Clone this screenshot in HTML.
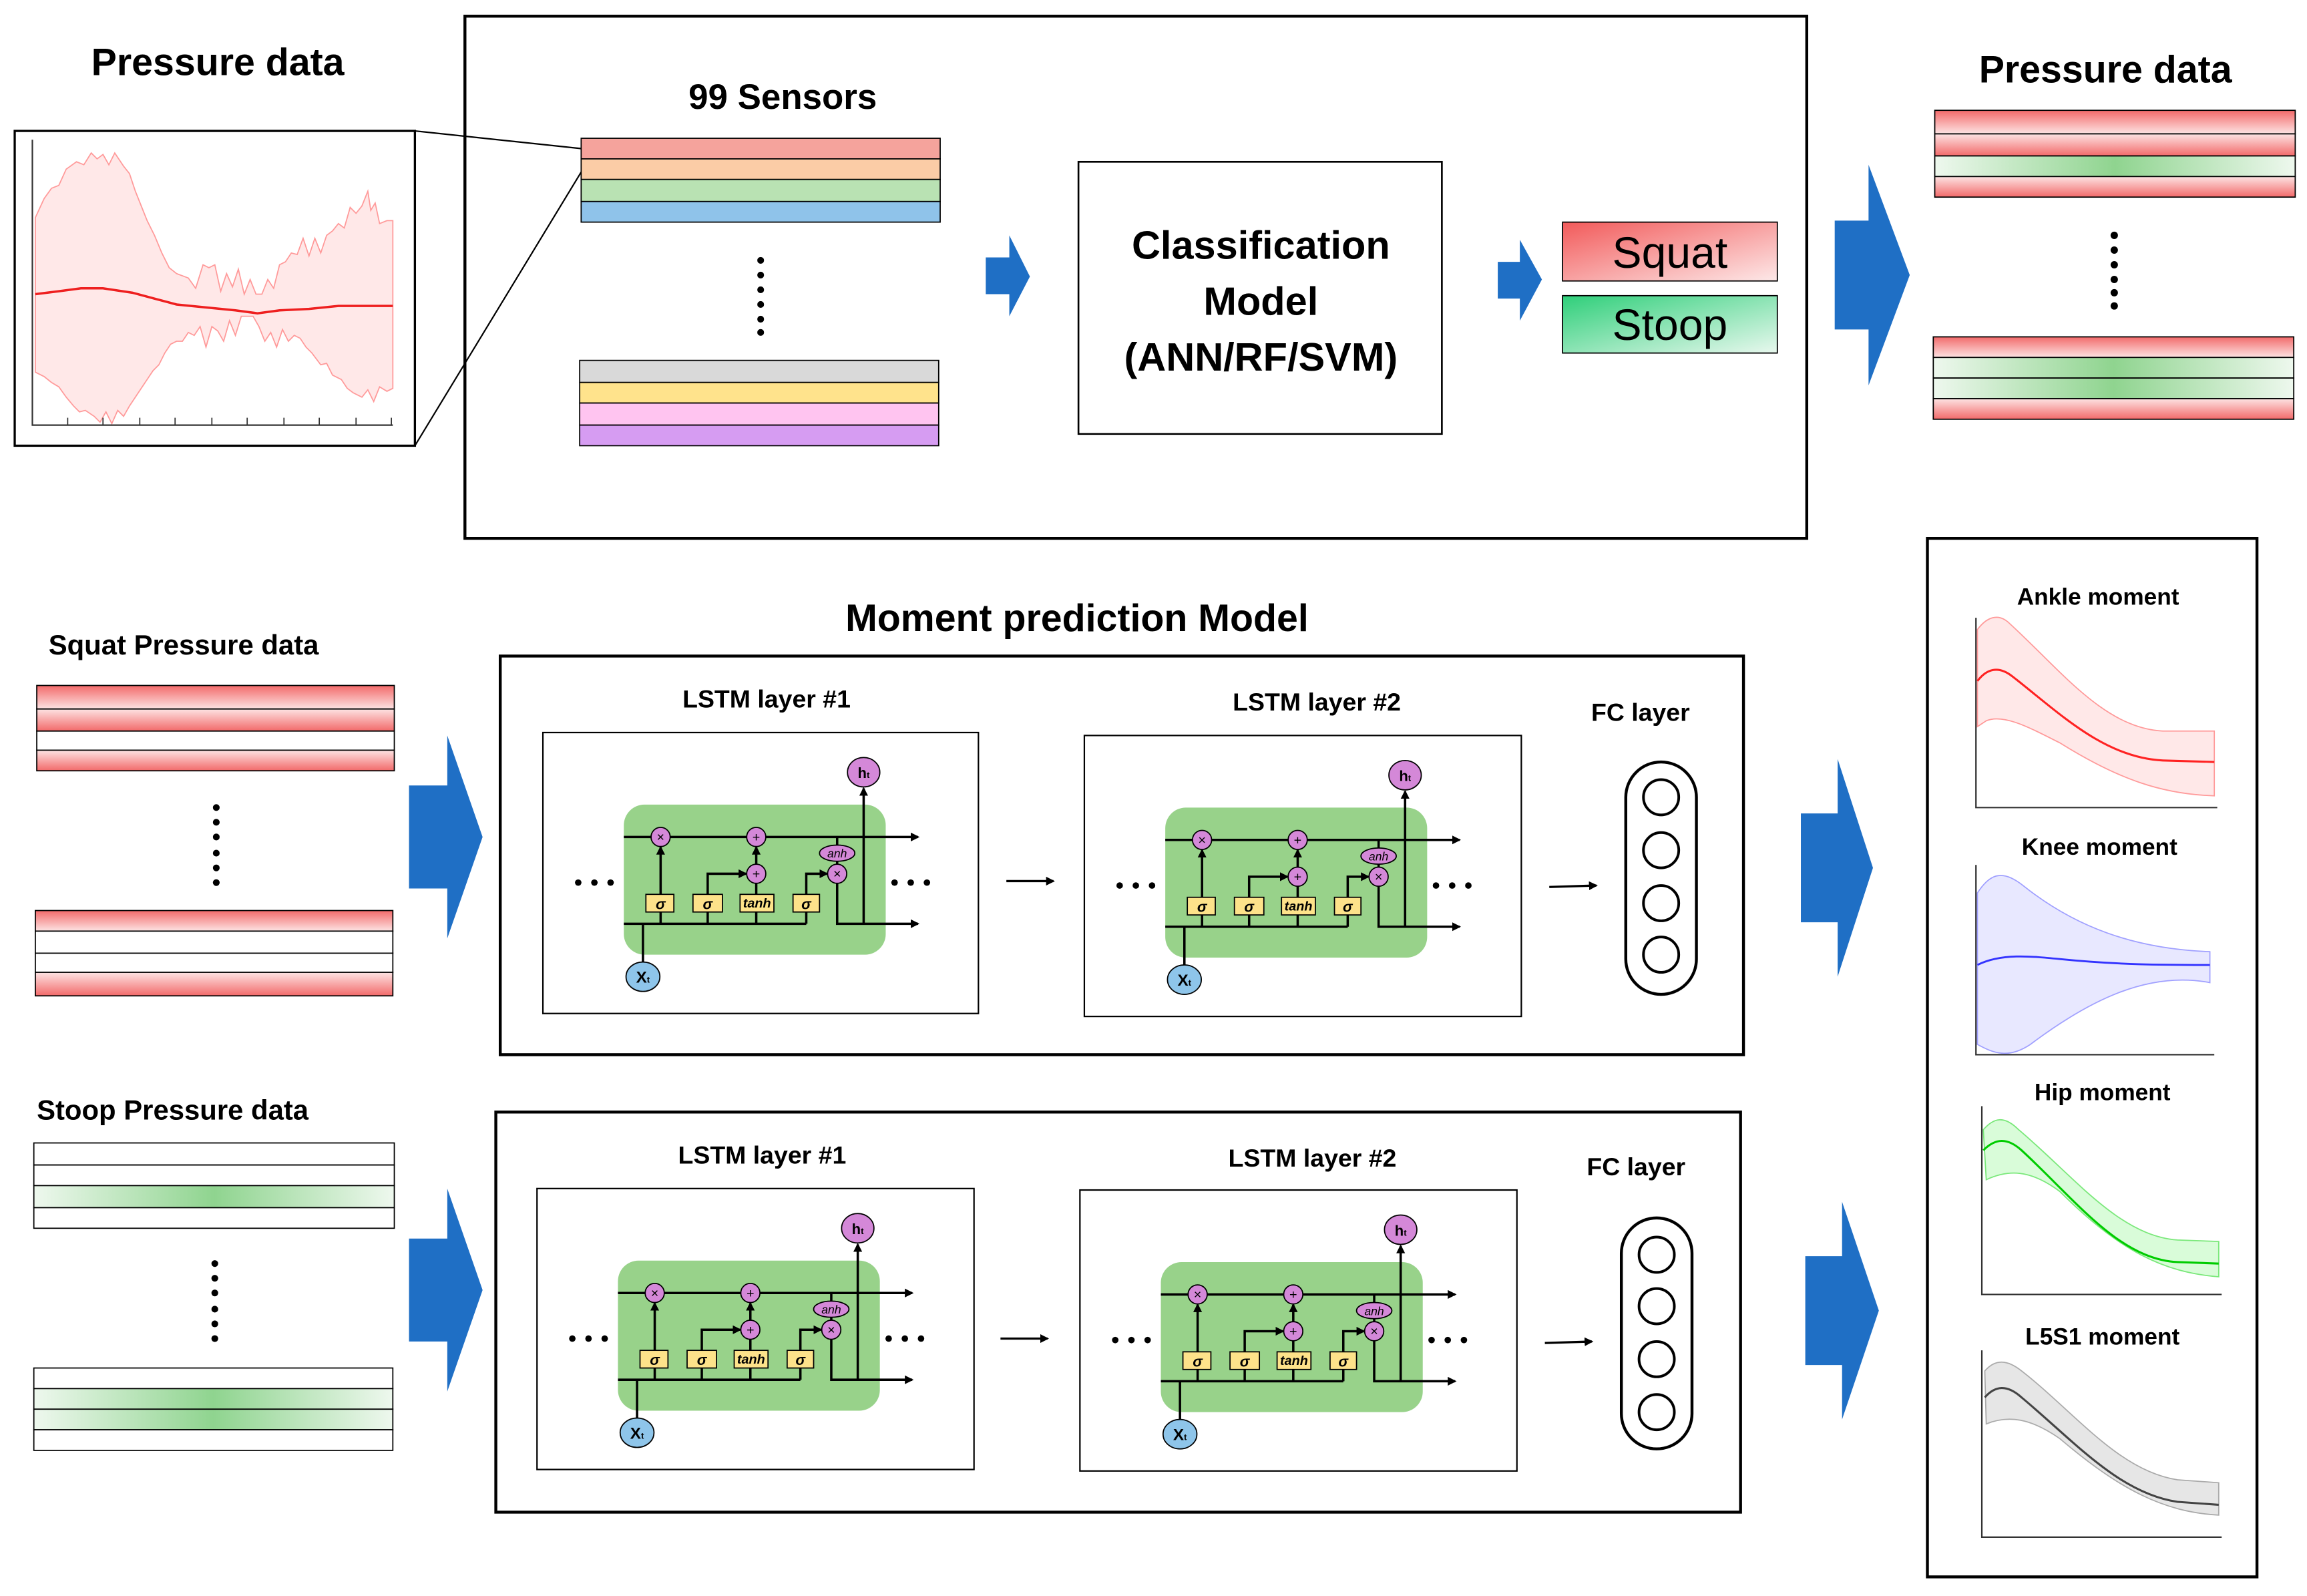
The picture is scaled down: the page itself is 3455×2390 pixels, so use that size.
<!DOCTYPE html>
<html><head><meta charset="utf-8"><style>
html,body{margin:0;padding:0;background:#fff;}
svg{display:block;}
text{font-family:"Liberation Sans",sans-serif;}
.b{font-weight:bold;}
</style></head><body>
<svg width="3455" height="2390" viewBox="0 0 1568 1085" preserveAspectRatio="none" xmlns="http://www.w3.org/2000/svg">
<defs>
<linearGradient id="rv" x1="0" y1="0" x2="0" y2="1"><stop offset="0" stop-color="#f26a6a"/><stop offset="1" stop-color="#fde3e3"/></linearGradient>
<linearGradient id="rv2" x1="0" y1="0" x2="0" y2="1"><stop offset="0" stop-color="#fde3e3"/><stop offset="1" stop-color="#f26a6a"/></linearGradient>
<linearGradient id="gh" x1="0" y1="0" x2="1" y2="0"><stop offset="0" stop-color="#eef8ee"/><stop offset="0.5" stop-color="#8fd48f"/><stop offset="1" stop-color="#eef8ee"/></linearGradient>
<linearGradient id="sq" x1="0" y1="0" x2="1" y2="1"><stop offset="0" stop-color="#f25a5a"/><stop offset="1" stop-color="#fde8e8"/></linearGradient>
<linearGradient id="st" x1="0" y1="0" x2="1" y2="1"><stop offset="0" stop-color="#2fcf7a"/><stop offset="1" stop-color="#e8f8ee"/></linearGradient>
<marker id="ah" markerWidth="6" markerHeight="6" refX="5" refY="3" orient="auto" markerUnits="userSpaceOnUse"><path d="M0,0 L6,3 L0,6 Z" fill="#000"/></marker>
</defs>

<!-- TOP SECTION -->
<text x="148" y="51" class="b" font-size="26" text-anchor="middle">Pressure data</text>
<rect x="10" y="89" width="272" height="214" fill="#fff" stroke="#000" stroke-width="1.5"/>
<polygon points="24,148 30,135 35,128 40,126 45,115 52,110 57,112 62,104 66,108 70,105 74,112 78,104 84,113 88,118 92,130 96,140 100,150 105,160 110,172 115,182 120,186 128,189 133,196 138,180 142,182 146,180 150,198 154,186 158,195 162,183 166,200 170,190 174,200 178,200 182,190 186,196 190,180 194,178 198,172 202,173 206,162 210,174 214,162 218,172 222,160 226,157 230,152 234,155 238,141 242,145 246,140 250,130 252,143 255,138 258,152 263,150 267,150 267,264 263,266 258,263 254,273 250,265 246,270 240,267 236,264 232,258 226,255 222,247 218,248 212,240 208,236 204,230 200,228 196,232 192,224 188,236 184,226 180,232 176,222 172,215 168,215 164,215 160,228 156,218 152,232 148,225 144,222 140,236 136,222 132,228 128,226 124,232 120,232 116,234 112,240 108,248 104,252 100,258 96,264 92,270 88,276 84,283 80,279 76,288 72,280 68,287 64,283 58,279 54,280 50,276 45,270 40,263 35,260 30,256 24,253" fill="#ffe8e8" stroke="#ff9a9a" stroke-width="0.8"/>
<polyline points="24,200 40,198 55,196 70,196 90,199 105,203 120,207 140,209 160,211 175,213 190,211 210,210 230,208 250,208 267,208" fill="none" stroke="#ee2020" stroke-width="1.6"/>
<polyline points="22,95 22,289 267,289" fill="none" stroke="#333" stroke-width="1"/>
<g stroke="#333" stroke-width="0.8"><line x1="46" y1="284" x2="46" y2="289"/><line x1="70" y1="284" x2="70" y2="289"/><line x1="95" y1="284" x2="95" y2="289"/><line x1="119" y1="284" x2="119" y2="289"/><line x1="144" y1="284" x2="144" y2="289"/><line x1="168" y1="284" x2="168" y2="289"/><line x1="193" y1="284" x2="193" y2="289"/><line x1="217" y1="284" x2="217" y2="289"/><line x1="242" y1="284" x2="242" y2="289"/><line x1="266" y1="284" x2="266" y2="289"/></g>
<line x1="282" y1="89" x2="395" y2="101" stroke="#000" stroke-width="1"/>
<line x1="282" y1="303" x2="395" y2="117" stroke="#000" stroke-width="1"/>

<rect x="316" y="11" width="912" height="355" fill="none" stroke="#000" stroke-width="2"/>
<text x="532" y="74" class="b" font-size="24" text-anchor="middle">99 Sensors</text>
<g stroke="#000" stroke-width="0.8">
<rect x="395" y="94" width="244" height="14" fill="#f5a39c"/>
<rect x="395" y="108" width="244" height="14" fill="#fbcca6"/>
<rect x="395" y="122" width="244" height="15" fill="#b9e2b3"/>
<rect x="395" y="137" width="244" height="14" fill="#8fc3ea"/>
<rect x="394" y="245" width="244" height="15" fill="#d9d9d9"/>
<rect x="394" y="260" width="244" height="14" fill="#ffe38c"/>
<rect x="394" y="274" width="244" height="15" fill="#ffc4f0"/>
<rect x="394" y="289" width="244" height="14" fill="#d69cf2"/>
</g>
<g fill="#000"><circle cx="517" cy="177" r="2.3"/><circle cx="517" cy="187" r="2.3"/><circle cx="517" cy="197" r="2.3"/><circle cx="517" cy="207" r="2.3"/><circle cx="517" cy="217" r="2.3"/><circle cx="517" cy="226" r="2.3"/></g>
<polygon points="670,175 686,175 686,160 700,188 686,215 686,200 670,200" fill="#1f6fc5"/>
<rect x="733" y="110" width="247" height="185" fill="#fff" stroke="#000" stroke-width="1.2"/>
<text x="857" y="176" class="b" font-size="27" text-anchor="middle">Classification</text>
<text x="857" y="214" class="b" font-size="27" text-anchor="middle">Model</text>
<text x="857" y="252" class="b" font-size="27" text-anchor="middle">(ANN/RF/SVM)</text>
<polygon points="1018,178 1033,178 1033,163 1048,190 1033,218 1033,203 1018,203" fill="#1f6fc5"/>
<rect x="1062" y="151" width="146" height="40" fill="url(#sq)" stroke="#000" stroke-width="0.8"/>
<text x="1135" y="182" font-size="30" text-anchor="middle">Squat</text>
<rect x="1062" y="201" width="146" height="39" fill="url(#st)" stroke="#000" stroke-width="0.8"/>
<text x="1135" y="231" font-size="30" text-anchor="middle">Stoop</text>
<polygon points="1247,150 1270,150 1270,112 1298,187 1270,262 1270,224 1247,224" fill="#1f6fc5"/>
<text x="1431" y="56" class="b" font-size="26" text-anchor="middle">Pressure data</text>
<g stroke="#000" stroke-width="0.8">
<rect x="1315" y="75" width="245" height="16" fill="url(#rv)"/>
<rect x="1315" y="91" width="245" height="15" fill="url(#rv2)"/>
<rect x="1315" y="106" width="245" height="14" fill="url(#gh)"/>
<rect x="1315" y="120" width="245" height="14" fill="url(#rv2)"/>
<rect x="1314" y="229" width="245" height="14" fill="url(#rv)"/>
<rect x="1314" y="243" width="245" height="14" fill="url(#gh)"/>
<rect x="1314" y="257" width="245" height="14" fill="url(#gh)"/>
<rect x="1314" y="271" width="245" height="14" fill="url(#rv2)"/>
</g>
<g fill="#000"><circle cx="1437" cy="160" r="2.5"/><circle cx="1437" cy="170" r="2.5"/><circle cx="1437" cy="180" r="2.5"/><circle cx="1437" cy="190" r="2.5"/><circle cx="1437" cy="199" r="2.5"/><circle cx="1437" cy="208" r="2.5"/></g>

<!-- LEFT INPUTS -->
<text x="33" y="445" class="b" font-size="19">Squat Pressure data</text>
<g stroke="#000" stroke-width="0.8">
<rect x="25" y="466" width="243" height="16" fill="url(#rv)"/>
<rect x="25" y="482" width="243" height="15" fill="url(#rv2)"/>
<rect x="25" y="497" width="243" height="13" fill="#fff"/>
<rect x="25" y="510" width="243" height="14" fill="url(#rv2)"/>
<rect x="24" y="619" width="243" height="14" fill="url(#rv)"/>
<rect x="24" y="633" width="243" height="15" fill="#fff"/>
<rect x="24" y="648" width="243" height="13" fill="#fff"/>
<rect x="24" y="661" width="243" height="16" fill="url(#rv2)"/>
</g>
<g fill="#000"><circle cx="147" cy="549" r="2.3"/><circle cx="147" cy="559" r="2.3"/><circle cx="147" cy="569" r="2.3"/><circle cx="147" cy="580" r="2.3"/><circle cx="147" cy="590" r="2.3"/><circle cx="147" cy="600" r="2.3"/></g>
<polygon points="278,534 304,534 304,500 328,569 304,638 304,604 278,604" fill="#1f6fc5"/>

<text x="25" y="761" class="b" font-size="19">Stoop Pressure data</text>
<g stroke="#000" stroke-width="0.8">
<rect x="23" y="777" width="245" height="15" fill="#fff"/>
<rect x="23" y="792" width="245" height="14" fill="#fff"/>
<rect x="23" y="806" width="245" height="15" fill="url(#gh)"/>
<rect x="23" y="821" width="245" height="14" fill="#fff"/>
<rect x="23" y="930" width="244" height="14" fill="#fff"/>
<rect x="23" y="944" width="244" height="14" fill="url(#gh)"/>
<rect x="23" y="958" width="244" height="14" fill="url(#gh)"/>
<rect x="23" y="972" width="244" height="14" fill="#fff"/>
</g>
<g fill="#000"><circle cx="146" cy="859" r="2.3"/><circle cx="146" cy="869" r="2.3"/><circle cx="146" cy="879" r="2.3"/><circle cx="146" cy="890" r="2.3"/><circle cx="146" cy="900" r="2.3"/><circle cx="146" cy="910" r="2.3"/></g>
<polygon points="278,842 304,842 304,808 328,877 304,946 304,912 278,912" fill="#1f6fc5"/>

<!-- MOMENT MODEL -->
<text x="732" y="429" class="b" font-size="26" text-anchor="middle">Moment prediction Model</text>
<rect x="340" y="446" width="845" height="271" fill="none" stroke="#000" stroke-width="2"/>
<text x="521" y="481" class="b" font-size="17" text-anchor="middle">LSTM layer #1</text>
<text x="895" y="483" class="b" font-size="17" text-anchor="middle">LSTM layer #2</text>
<text x="1115" y="490" class="b" font-size="17" text-anchor="middle">FC layer</text>
<rect x="1105" y="518" width="48" height="158" rx="24" fill="#fff" stroke="#000" stroke-width="2"/>
<g fill="#fff" stroke="#000" stroke-width="1.8"><circle cx="1129" cy="542" r="12"/><circle cx="1129" cy="578" r="12"/><circle cx="1129" cy="614" r="12"/><circle cx="1129" cy="649" r="12"/></g>
<line x1="684" y1="599" x2="716" y2="599" stroke="#000" stroke-width="1.5" marker-end="url(#ah)"/>
<line x1="1053" y1="603" x2="1085" y2="602" stroke="#000" stroke-width="1.5" marker-end="url(#ah)"/>

<rect x="337" y="756" width="846" height="272" fill="none" stroke="#000" stroke-width="2"/>
<text x="518" y="791" class="b" font-size="17" text-anchor="middle">LSTM layer #1</text>
<text x="892" y="793" class="b" font-size="17" text-anchor="middle">LSTM layer #2</text>
<text x="1112" y="799" class="b" font-size="17" text-anchor="middle">FC layer</text>
<rect x="1102" y="828" width="48" height="157" rx="24" fill="#fff" stroke="#000" stroke-width="2"/>
<g fill="#fff" stroke="#000" stroke-width="1.8"><circle cx="1126" cy="853" r="12"/><circle cx="1126" cy="888" r="12"/><circle cx="1126" cy="924" r="12"/><circle cx="1126" cy="960" r="12"/></g>
<line x1="680" y1="910" x2="712" y2="910" stroke="#000" stroke-width="1.5" marker-end="url(#ah)"/>
<line x1="1050" y1="913" x2="1082" y2="912" stroke="#000" stroke-width="1.5" marker-end="url(#ah)"/>

<!-- LSTM cells -->
<g transform="translate(369,498)">
<rect x="0" y="0" width="296" height="191" fill="#fff" stroke="#000" stroke-width="1"/>
<rect x="55" y="49" width="178" height="102" rx="14" fill="#98d28a"/>
<g stroke="#000" stroke-width="1.6" fill="none">
<line x1="55" y1="71" x2="255" y2="71" marker-end="url(#ah)"/>
<polyline points="200,102 200,130 255,130" marker-end="url(#ah)"/>
<line x1="55" y1="130" x2="179" y2="130"/>
<line x1="68" y1="130" x2="68" y2="157"/>
<line x1="80" y1="110" x2="80" y2="78" marker-end="url(#ah)"/>
<line x1="80" y1="122" x2="80" y2="130"/><line x1="112" y1="122" x2="112" y2="130"/><line x1="145" y1="122" x2="145" y2="130"/><line x1="179" y1="122" x2="179" y2="130"/>
<polyline points="112,110 112,96 138,96" marker-end="url(#ah)"/>
<line x1="145" y1="110" x2="145" y2="102"/>
<line x1="145" y1="90" x2="145" y2="78" marker-end="url(#ah)"/>
<polyline points="179,110 179,96 193,96" marker-end="url(#ah)"/>
<line x1="200" y1="71" x2="200" y2="90"/>
<line x1="218" y1="130" x2="218" y2="38" marker-end="url(#ah)"/>
</g>
<g fill="#d488d8" stroke="#000" stroke-width="0.8">
<circle cx="80" cy="71" r="6.5"/><circle cx="145" cy="71" r="6.5"/><circle cx="145" cy="96" r="6.5"/><circle cx="200" cy="96" r="6.5"/>
<ellipse cx="200" cy="82" rx="12" ry="5.5"/><ellipse cx="218" cy="27" rx="11" ry="10"/></g>
<ellipse cx="68" cy="166" rx="11.5" ry="10" fill="#8ec5ea" stroke="#000" stroke-width="0.8"/>
<g font-family="Liberation Serif,serif" text-anchor="middle" font-size="9"><text x="80" y="74">×</text><text x="145" y="74">+</text><text x="145" y="99">+</text><text x="200" y="99">×</text><text x="200" y="85" font-style="italic" font-size="8">anh</text><text x="218" y="31" font-weight="bold" font-size="10">h<tspan font-size="6">t</tspan></text><text x="68" y="170" font-weight="bold" font-size="11">X<tspan font-size="6">t</tspan></text></g>
<g fill="#fde28a" stroke="#000" stroke-width="0.8"><rect x="70" y="110" width="19" height="12"/><rect x="102" y="110" width="20" height="12"/><rect x="134" y="110" width="23" height="12"/><rect x="170" y="110" width="18" height="12"/></g>
<g font-family="Liberation Serif,serif" font-style="italic" font-weight="bold" text-anchor="middle" font-size="10"><text x="80" y="120">σ</text><text x="112" y="120">σ</text><text x="145.5" y="119" font-size="9">tanh</text><text x="179" y="120">σ</text></g>
<g fill="#000"><circle cx="24" cy="102" r="2.2"/><circle cx="35" cy="102" r="2.2"/><circle cx="46" cy="102" r="2.2"/><circle cx="239" cy="102" r="2.2"/><circle cx="250" cy="102" r="2.2"/><circle cx="261" cy="102" r="2.2"/></g>
</g>

<g transform="translate(737,500)">
<rect x="0" y="0" width="297" height="191" fill="#fff" stroke="#000" stroke-width="1"/>
<rect x="55" y="49" width="178" height="102" rx="14" fill="#98d28a"/>
<g stroke="#000" stroke-width="1.6" fill="none">
<line x1="55" y1="71" x2="255" y2="71" marker-end="url(#ah)"/>
<polyline points="200,102 200,130 255,130" marker-end="url(#ah)"/>
<line x1="55" y1="130" x2="179" y2="130"/>
<line x1="68" y1="130" x2="68" y2="157"/>
<line x1="80" y1="110" x2="80" y2="78" marker-end="url(#ah)"/>
<line x1="80" y1="122" x2="80" y2="130"/><line x1="112" y1="122" x2="112" y2="130"/><line x1="145" y1="122" x2="145" y2="130"/><line x1="179" y1="122" x2="179" y2="130"/>
<polyline points="112,110 112,96 138,96" marker-end="url(#ah)"/>
<line x1="145" y1="110" x2="145" y2="102"/>
<line x1="145" y1="90" x2="145" y2="78" marker-end="url(#ah)"/>
<polyline points="179,110 179,96 193,96" marker-end="url(#ah)"/>
<line x1="200" y1="71" x2="200" y2="90"/>
<line x1="218" y1="130" x2="218" y2="38" marker-end="url(#ah)"/>
</g>
<g fill="#d488d8" stroke="#000" stroke-width="0.8">
<circle cx="80" cy="71" r="6.5"/><circle cx="145" cy="71" r="6.5"/><circle cx="145" cy="96" r="6.5"/><circle cx="200" cy="96" r="6.5"/>
<ellipse cx="200" cy="82" rx="12" ry="5.5"/><ellipse cx="218" cy="27" rx="11" ry="10"/></g>
<ellipse cx="68" cy="166" rx="11.5" ry="10" fill="#8ec5ea" stroke="#000" stroke-width="0.8"/>
<g font-family="Liberation Serif,serif" text-anchor="middle" font-size="9"><text x="80" y="74">×</text><text x="145" y="74">+</text><text x="145" y="99">+</text><text x="200" y="99">×</text><text x="200" y="85" font-style="italic" font-size="8">anh</text><text x="218" y="31" font-weight="bold" font-size="10">h<tspan font-size="6">t</tspan></text><text x="68" y="170" font-weight="bold" font-size="11">X<tspan font-size="6">t</tspan></text></g>
<g fill="#fde28a" stroke="#000" stroke-width="0.8"><rect x="70" y="110" width="19" height="12"/><rect x="102" y="110" width="20" height="12"/><rect x="134" y="110" width="23" height="12"/><rect x="170" y="110" width="18" height="12"/></g>
<g font-family="Liberation Serif,serif" font-style="italic" font-weight="bold" text-anchor="middle" font-size="10"><text x="80" y="120">σ</text><text x="112" y="120">σ</text><text x="145.5" y="119" font-size="9">tanh</text><text x="179" y="120">σ</text></g>
<g fill="#000"><circle cx="24" cy="102" r="2.2"/><circle cx="35" cy="102" r="2.2"/><circle cx="46" cy="102" r="2.2"/><circle cx="239" cy="102" r="2.2"/><circle cx="250" cy="102" r="2.2"/><circle cx="261" cy="102" r="2.2"/></g>
</g>

<g transform="translate(365,808)">
<rect x="0" y="0" width="297" height="191" fill="#fff" stroke="#000" stroke-width="1"/>
<rect x="55" y="49" width="178" height="102" rx="14" fill="#98d28a"/>
<g stroke="#000" stroke-width="1.6" fill="none">
<line x1="55" y1="71" x2="255" y2="71" marker-end="url(#ah)"/>
<polyline points="200,102 200,130 255,130" marker-end="url(#ah)"/>
<line x1="55" y1="130" x2="179" y2="130"/>
<line x1="68" y1="130" x2="68" y2="157"/>
<line x1="80" y1="110" x2="80" y2="78" marker-end="url(#ah)"/>
<line x1="80" y1="122" x2="80" y2="130"/><line x1="112" y1="122" x2="112" y2="130"/><line x1="145" y1="122" x2="145" y2="130"/><line x1="179" y1="122" x2="179" y2="130"/>
<polyline points="112,110 112,96 138,96" marker-end="url(#ah)"/>
<line x1="145" y1="110" x2="145" y2="102"/>
<line x1="145" y1="90" x2="145" y2="78" marker-end="url(#ah)"/>
<polyline points="179,110 179,96 193,96" marker-end="url(#ah)"/>
<line x1="200" y1="71" x2="200" y2="90"/>
<line x1="218" y1="130" x2="218" y2="38" marker-end="url(#ah)"/>
</g>
<g fill="#d488d8" stroke="#000" stroke-width="0.8">
<circle cx="80" cy="71" r="6.5"/><circle cx="145" cy="71" r="6.5"/><circle cx="145" cy="96" r="6.5"/><circle cx="200" cy="96" r="6.5"/>
<ellipse cx="200" cy="82" rx="12" ry="5.5"/><ellipse cx="218" cy="27" rx="11" ry="10"/></g>
<ellipse cx="68" cy="166" rx="11.5" ry="10" fill="#8ec5ea" stroke="#000" stroke-width="0.8"/>
<g font-family="Liberation Serif,serif" text-anchor="middle" font-size="9"><text x="80" y="74">×</text><text x="145" y="74">+</text><text x="145" y="99">+</text><text x="200" y="99">×</text><text x="200" y="85" font-style="italic" font-size="8">anh</text><text x="218" y="31" font-weight="bold" font-size="10">h<tspan font-size="6">t</tspan></text><text x="68" y="170" font-weight="bold" font-size="11">X<tspan font-size="6">t</tspan></text></g>
<g fill="#fde28a" stroke="#000" stroke-width="0.8"><rect x="70" y="110" width="19" height="12"/><rect x="102" y="110" width="20" height="12"/><rect x="134" y="110" width="23" height="12"/><rect x="170" y="110" width="18" height="12"/></g>
<g font-family="Liberation Serif,serif" font-style="italic" font-weight="bold" text-anchor="middle" font-size="10"><text x="80" y="120">σ</text><text x="112" y="120">σ</text><text x="145.5" y="119" font-size="9">tanh</text><text x="179" y="120">σ</text></g>
<g fill="#000"><circle cx="24" cy="102" r="2.2"/><circle cx="35" cy="102" r="2.2"/><circle cx="46" cy="102" r="2.2"/><circle cx="239" cy="102" r="2.2"/><circle cx="250" cy="102" r="2.2"/><circle cx="261" cy="102" r="2.2"/></g>
</g>

<g transform="translate(734,809)">
<rect x="0" y="0" width="297" height="191" fill="#fff" stroke="#000" stroke-width="1"/>
<rect x="55" y="49" width="178" height="102" rx="14" fill="#98d28a"/>
<g stroke="#000" stroke-width="1.6" fill="none">
<line x1="55" y1="71" x2="255" y2="71" marker-end="url(#ah)"/>
<polyline points="200,102 200,130 255,130" marker-end="url(#ah)"/>
<line x1="55" y1="130" x2="179" y2="130"/>
<line x1="68" y1="130" x2="68" y2="157"/>
<line x1="80" y1="110" x2="80" y2="78" marker-end="url(#ah)"/>
<line x1="80" y1="122" x2="80" y2="130"/><line x1="112" y1="122" x2="112" y2="130"/><line x1="145" y1="122" x2="145" y2="130"/><line x1="179" y1="122" x2="179" y2="130"/>
<polyline points="112,110 112,96 138,96" marker-end="url(#ah)"/>
<line x1="145" y1="110" x2="145" y2="102"/>
<line x1="145" y1="90" x2="145" y2="78" marker-end="url(#ah)"/>
<polyline points="179,110 179,96 193,96" marker-end="url(#ah)"/>
<line x1="200" y1="71" x2="200" y2="90"/>
<line x1="218" y1="130" x2="218" y2="38" marker-end="url(#ah)"/>
</g>
<g fill="#d488d8" stroke="#000" stroke-width="0.8">
<circle cx="80" cy="71" r="6.5"/><circle cx="145" cy="71" r="6.5"/><circle cx="145" cy="96" r="6.5"/><circle cx="200" cy="96" r="6.5"/>
<ellipse cx="200" cy="82" rx="12" ry="5.5"/><ellipse cx="218" cy="27" rx="11" ry="10"/></g>
<ellipse cx="68" cy="166" rx="11.5" ry="10" fill="#8ec5ea" stroke="#000" stroke-width="0.8"/>
<g font-family="Liberation Serif,serif" text-anchor="middle" font-size="9"><text x="80" y="74">×</text><text x="145" y="74">+</text><text x="145" y="99">+</text><text x="200" y="99">×</text><text x="200" y="85" font-style="italic" font-size="8">anh</text><text x="218" y="31" font-weight="bold" font-size="10">h<tspan font-size="6">t</tspan></text><text x="68" y="170" font-weight="bold" font-size="11">X<tspan font-size="6">t</tspan></text></g>
<g fill="#fde28a" stroke="#000" stroke-width="0.8"><rect x="70" y="110" width="19" height="12"/><rect x="102" y="110" width="20" height="12"/><rect x="134" y="110" width="23" height="12"/><rect x="170" y="110" width="18" height="12"/></g>
<g font-family="Liberation Serif,serif" font-style="italic" font-weight="bold" text-anchor="middle" font-size="10"><text x="80" y="120">σ</text><text x="112" y="120">σ</text><text x="145.5" y="119" font-size="9">tanh</text><text x="179" y="120">σ</text></g>
<g fill="#000"><circle cx="24" cy="102" r="2.2"/><circle cx="35" cy="102" r="2.2"/><circle cx="46" cy="102" r="2.2"/><circle cx="239" cy="102" r="2.2"/><circle cx="250" cy="102" r="2.2"/><circle cx="261" cy="102" r="2.2"/></g>
</g>

<!-- right arrows -->
<polygon points="1224,553 1249,553 1249,516 1273,590 1249,664 1249,627 1224,627" fill="#1f6fc5"/>
<polygon points="1227,854 1252,854 1252,817 1277,891 1252,965 1252,928 1227,928" fill="#1f6fc5"/>

<!-- RIGHT PANEL -->
<rect x="1310" y="366" width="224" height="706" fill="#fff" stroke="#000" stroke-width="2"/>
<text x="1426" y="411" class="b" font-size="16" text-anchor="middle">Ankle moment</text>
<path d="M1344,428 C1350,420 1358,416 1366,424 C1400,455 1430,495 1470,497 L1505,497 L1505,541 C1470,540 1440,530 1400,505 C1380,495 1362,485 1350,490 L1344,494 Z" fill="#ffe8e8" stroke="#ff9a9a" stroke-width="0.8"/>
<path d="M1344,463 C1350,455 1358,452 1368,460 C1400,485 1430,515 1470,517 L1505,518" fill="none" stroke="#f22" stroke-width="1.4"/>
<polyline points="1343,420 1343,549 1507,549" fill="none" stroke="#333" stroke-width="1"/>

<text x="1427" y="581" class="b" font-size="16" text-anchor="middle">Knee moment</text>
<path d="M1344,607 C1352,595 1360,590 1375,602 C1410,630 1450,645 1502,647 L1502,668 C1460,660 1420,680 1380,710 C1365,720 1355,716 1344,710 Z" fill="#e8e8ff" stroke="#a0a0ff" stroke-width="0.8"/>
<path d="M1344,656 C1360,648 1380,650 1400,652 C1440,656 1470,656 1502,656" fill="none" stroke="#33f" stroke-width="1.3"/>
<polyline points="1343,588 1343,717 1505,717" fill="none" stroke="#333" stroke-width="1"/>

<text x="1429" y="748" class="b" font-size="16" text-anchor="middle">Hip moment</text>
<path d="M1348,768 C1355,760 1362,758 1372,768 C1410,800 1440,840 1480,843 L1508,844 L1508,868 C1470,865 1440,850 1400,810 C1380,795 1365,795 1350,802 Z" fill="#d9fcd9" stroke="#7ae87a" stroke-width="0.8"/>
<path d="M1348,782 C1356,774 1364,773 1374,782 C1410,815 1440,856 1480,858 L1508,859" fill="none" stroke="#0c0" stroke-width="1.4"/>
<polyline points="1347,752 1347,880 1510,880" fill="none" stroke="#333" stroke-width="1"/>

<text x="1429" y="914" class="b" font-size="16" text-anchor="middle">L5S1 moment</text>
<path d="M1349,932 C1356,924 1364,924 1374,932 C1410,960 1440,1000 1480,1006 L1508,1008 L1508,1030 C1470,1028 1440,1012 1400,978 C1380,964 1365,962 1350,968 Z" fill="#e6e6e6" stroke="#aaa" stroke-width="0.8"/>
<path d="M1349,950 C1356,942 1364,941 1374,950 C1410,980 1440,1015 1480,1021 L1508,1023" fill="none" stroke="#444" stroke-width="1.4"/>
<polyline points="1347,918 1347,1045 1510,1045" fill="none" stroke="#333" stroke-width="1"/>
</svg>
</body></html>
